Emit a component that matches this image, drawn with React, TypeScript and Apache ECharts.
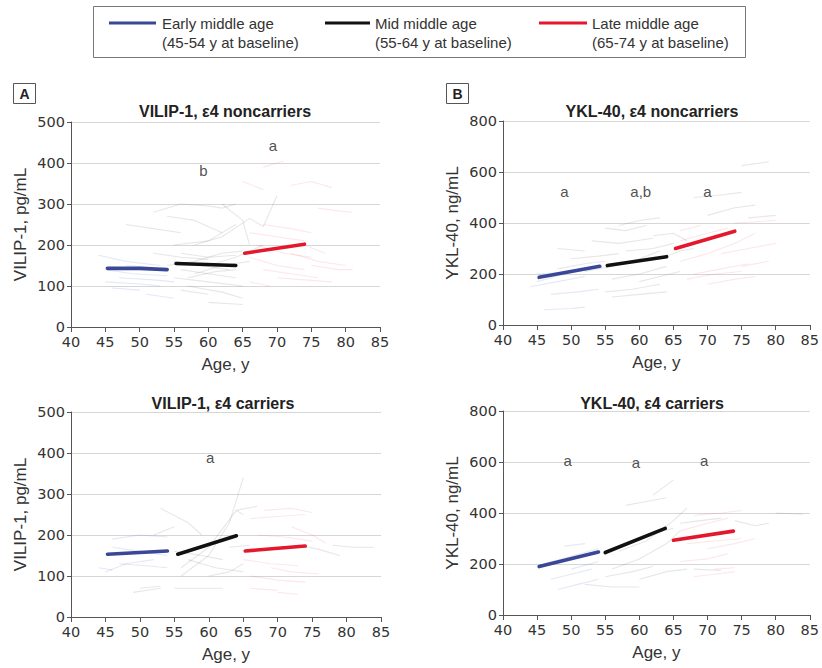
import React, { useEffect, useRef } from "react";
import * as echarts from "echarts";

// ---------- Data ----------
type Pt = [number, number];

// Panel A top: VILIP-1, ε4 noncarriers
const vilipNonEarly: Pt[] = [[45.3, 143], [50, 143], [54, 140]];
const vilipNonMid: Pt[] = [[55.3, 155], [64, 150]];
const vilipNonLate: Pt[] = [[65.3, 180], [74, 202]];
const vilipNonBgEarly: Pt[][] = [
  [[44, 175], [48, 160], [53, 150]],
  [[45, 140], [49, 130], [54, 125]],
  [[45, 110], [50, 105], [53, 100]],
  [[46, 95], [50, 90]],
  [[47, 120], [52, 115], [55, 110]],
  [[51, 80], [55, 70]],
  [[48, 150], [52, 145]],
];
const vilipNonBgMid: Pt[][] = [
  [[48, 250], [52, 240], [56, 230]],
  [[52, 280], [56, 300], [60, 295], [62, 290], [64, 300]],
  [[54, 270], [58, 260], [62, 230]],
  [[55, 200], [60, 210], [64, 250]],
  [[56, 180], [60, 170], [64, 175]],
  [[55, 160], [59, 150], [63, 140]],
  [[56, 140], [60, 130], [64, 120]],
  [[55, 120], [60, 110], [65, 100]],
  [[57, 100], [62, 85], [65, 70]],
  [[60, 60], [65, 55]],
  [[58, 200], [62, 220], [66, 265], [68, 245], [70, 320]],
  [[62, 300], [65, 260], [66, 200]],
  [[56, 90], [60, 80]],
  [[60, 150], [64, 170], [68, 200]],
  [[58, 130], [62, 150], [66, 160]],
  [[52, 180], [56, 170], [60, 165]],
  [[54, 150], [58, 160], [62, 180], [65, 185]],
  [[57, 120], [61, 135], [64, 140]],
];
const vilipNonBgLate: Pt[][] = [
  [[65, 355], [68, 335]],
  [[68, 390], [71, 405]],
  [[72, 345], [75, 355], [78, 340]],
  [[76, 290], [78, 285], [81, 280]],
  [[66, 230], [70, 220], [74, 210]],
  [[67, 200], [71, 180], [75, 170]],
  [[66, 170], [70, 150], [74, 140]],
  [[68, 140], [72, 130], [76, 120]],
  [[70, 120], [74, 115], [78, 110]],
  [[72, 180], [76, 160], [80, 150]],
  [[74, 200], [77, 180]],
  [[75, 150], [79, 140], [81, 140]],
  [[66, 110], [69, 100]],
  [[68, 250], [72, 240], [75, 230]],
];
const vilipNonNotes: [number, number, string][] = [[59.3, 381, "b"], [69.4, 443, "a"]];

// Panel B top: YKL-40, ε4 noncarriers
const yklNonEarly: Pt[] = [[45.3, 187], [54.2, 230]];
const yklNonMid: Pt[] = [[55.3, 233], [64, 268]];
const yklNonLate: Pt[] = [[65.3, 300], [74, 368]];
const yklNonBgEarly: Pt[][] = [
  [[44, 150], [48, 170], [52, 190]],
  [[45, 170], [49, 200], [53, 220]],
  [[46, 60], [50, 65], [52, 70]],
  [[47, 120], [51, 130], [54, 140]],
  [[48, 220], [52, 240], [55, 250]],
  [[45, 200], [48, 205]],
];
const yklNonBgMid: Pt[][] = [
  [[52, 210], [56, 230], [60, 260], [63, 290]],
  [[55, 380], [58, 370], [61, 390]],
  [[57, 390], [60, 410], [63, 420]],
  [[53, 330], [57, 320], [62, 340]],
  [[55, 130], [59, 140], [63, 160]],
  [[56, 180], [60, 200], [64, 230]],
  [[56, 110], [60, 120], [64, 130]],
  [[58, 290], [62, 300], [65, 320]],
  [[60, 170], [63, 190], [66, 210]],
  [[62, 350], [65, 360], [67, 330]],
  [[50, 260], [54, 270], [57, 280]],
  [[48, 300], [52, 290]],
  [[61, 250], [64, 270], [66, 290], [68, 300]],
  [[70, 430], [74, 460], [77, 470]],
  [[68, 500], [72, 510], [75, 520]],
  [[75, 625], [79, 640]],
  [[76, 420], [80, 430]],
];
const yklNonBgLate: Pt[][] = [
  [[66, 250], [70, 280], [74, 320], [77, 360]],
  [[66, 330], [70, 360], [73, 380]],
  [[67, 180], [71, 200], [75, 210]],
  [[68, 200], [72, 220], [76, 240]],
  [[70, 160], [74, 180], [77, 190]],
  [[72, 280], [76, 300], [80, 320]],
  [[74, 400], [77, 405], [80, 410]],
  [[66, 370], [69, 390]],
  [[75, 230], [79, 250]],
];
const yklNonNotes: [number, number, string][] = [[49, 525, "a"], [60.2, 525, "a,b"], [70, 522, "a"]];

// Panel A bottom: VILIP-1, ε4 carriers
const vilipCarEarly: Pt[] = [[45.3, 153], [54, 161]];
const vilipCarMid: Pt[] = [[55.5, 153], [64, 198]];
const vilipCarLate: Pt[] = [[65.3, 161], [74, 173]];
const vilipCarBgEarly: Pt[][] = [
  [[46, 190], [50, 200], [54, 195]],
  [[45, 110], [48, 130], [52, 140]],
  [[46, 170], [50, 160], [54, 150]],
  [[47, 130], [51, 125], [54, 120]],
  [[44, 120], [46, 115]],
];
const vilipCarBgMid: Pt[][] = [
  [[49, 60], [53, 70]],
  [[50, 70], [53, 75]],
  [[53, 265], [57, 230], [59, 200]],
  [[52, 200], [55, 220]],
  [[56, 100], [60, 150], [63, 230], [65, 340]],
  [[56, 120], [60, 170], [64, 260], [65, 250]],
  [[55, 70], [59, 70], [62, 70]],
  [[55, 160], [59, 150], [62, 140]],
  [[57, 140], [61, 120], [65, 110]],
  [[60, 100], [63, 110], [65, 130]],
  [[63, 170], [66, 175]],
  [[64, 260], [67, 270]],
  [[78, 175], [81, 170], [84, 170]],
  [[73, 175], [76, 165], [79, 150]],
];
const vilipCarBgLate: Pt[][] = [
  [[66, 240], [70, 245], [74, 250]],
  [[68, 260], [72, 265], [75, 255]],
  [[65, 140], [69, 130], [73, 125]],
  [[66, 100], [70, 90], [74, 85]],
  [[67, 200], [71, 195], [75, 185]],
  [[69, 120], [72, 110], [76, 105]],
  [[70, 60], [73, 55]],
  [[72, 220], [75, 200], [77, 180]],
  [[66, 70], [70, 65]],
];
const vilipCarNotes: [number, number, string][] = [[60.2, 388, "a"]];

// Panel B bottom: YKL-40, ε4 carriers
const yklCarEarly: Pt[] = [[45.3, 190], [54, 247]];
const yklCarMid: Pt[] = [[55, 245], [63.8, 340]];
const yklCarLate: Pt[] = [[65, 293], [73.8, 329]];
const yklCarBgEarly: Pt[][] = [
  [[46, 200], [50, 230], [54, 260]],
  [[47, 140], [50, 160], [53, 180]],
  [[48, 100], [51, 120], [54, 140]],
  [[49, 270], [52, 280]],
  [[50, 180], [54, 210]],
];
const yklCarBgMid: Pt[][] = [
  [[58, 430], [62, 450], [64, 460]],
  [[62, 470], [65, 530]],
  [[52, 120], [56, 110], [60, 110]],
  [[55, 150], [59, 170], [62, 190]],
  [[56, 180], [60, 220], [64, 280], [66, 330]],
  [[57, 250], [61, 290], [65, 370], [67, 420]],
  [[60, 140], [64, 170], [67, 180]],
  [[66, 360], [69, 370], [72, 380]],
  [[74, 370], [77, 350], [79, 360]],
  [[80, 400], [84, 395]],
  [[62, 320], [65, 340]],
  [[68, 180], [72, 175]],
];
const yklCarBgLate: Pt[][] = [
  [[66, 330], [70, 360], [73, 380]],
  [[68, 390], [72, 400], [75, 410]],
  [[66, 210], [70, 220], [73, 240]],
  [[67, 280], [71, 290], [75, 300]],
  [[68, 150], [71, 160], [74, 170]],
  [[70, 260], [74, 280], [77, 300]],
  [[71, 180], [74, 185]],
];
const yklCarNotes: [number, number, string][] = [[49.5, 604, "a"], [59.5, 600, "a"], [69.5, 604, "a"]];

const panelTitles = [
  "VILIP-1, ε4 noncarriers",
  "YKL-40, ε4 noncarriers",
  "VILIP-1, ε4 carriers",
  "YKL-40, ε4 carriers",
];
const yNames = ["VILIP-1, pg/mL", "YKL-40, ng/mL", "VILIP-1, pg/mL", "YKL-40, ng/mL"];
const xName = "Age, y";
const legendLabels = [
  ["Early middle age", "(45-54 y at baseline)"],
  ["Mid middle age", "(55-64 y at baseline)"],
  ["Late middle age", "(65-74 y at baseline)"],
];

// ---------- Styling ----------
const FONT = '"Liberation Sans Narrow", "Liberation Sans", sans-serif';
const TICKFONT = '"DejaVu Sans", sans-serif';
const C_EARLY = "#3a4796";
const C_MID = "#111111";
const C_LATE = "#e3182d";
const BG_EARLY = "rgba(70,90,190,0.14)";
const BG_MID = "rgba(110,110,110,0.17)";
const BG_LATE = "rgba(235,60,80,0.12)";

const grids = [
  { left: 71, top: 122, width: 309, height: 205 },
  { left: 503, top: 121, width: 309, height: 204 },
  { left: 71, top: 412, width: 310, height: 205 },
  { left: 503, top: 411, width: 309, height: 204 },
];

const panels = [
  { mean: [vilipNonEarly, vilipNonMid, vilipNonLate], bg: [vilipNonBgEarly, vilipNonBgMid, vilipNonBgLate], notes: vilipNonNotes, max: 500, step: 100 },
  { mean: [yklNonEarly, yklNonMid, yklNonLate], bg: [yklNonBgEarly, yklNonBgMid, yklNonBgLate], notes: yklNonNotes, max: 800, step: 200 },
  { mean: [vilipCarEarly, vilipCarMid, vilipCarLate], bg: [vilipCarBgEarly, vilipCarBgMid, vilipCarBgLate], notes: vilipCarNotes, max: 500, step: 100 },
  { mean: [yklCarEarly, yklCarMid, yklCarLate], bg: [yklCarBgEarly, yklCarBgMid, yklCarBgLate], notes: yklCarNotes, max: 800, step: 200 },
];

function buildOption() {
  const series: any[] = [];
  const bgColors = [BG_EARLY, BG_MID, BG_LATE];
  const meanColors = [C_EARLY, C_MID, C_LATE];
  panels.forEach((p, i) => {
    p.bg.forEach((group, g) => {
      group.forEach((traj) => {
        series.push({
          type: "line", xAxisIndex: i, yAxisIndex: i, data: traj, symbol: "none",
          silent: true, lineStyle: { color: bgColors[g], width: 1.1 }, z: 1,
        });
      });
    });
    p.mean.forEach((m, g) => {
      series.push({
        type: "line", xAxisIndex: i, yAxisIndex: i, data: m, symbol: "none",
        lineStyle: { color: meanColors[g], width: 3.6, cap: "round" }, z: 5,
      });
    });
    series.push({
      type: "scatter", xAxisIndex: i, yAxisIndex: i, symbolSize: 0, z: 6,
      data: p.notes.map((n) => ({ value: [n[0], n[1]], name: n[2] })),
      label: { show: true, position: "inside", formatter: (d: any) => d.name, color: "#222", fontSize: 15, fontFamily: FONT },
    });
  });

  const xAxis = grids.map((_, i) => ({
    type: "value", gridIndex: i, min: 40, max: 85, interval: 5,
    name: xName, nameLocation: "middle", nameGap: 29,
    nameTextStyle: { fontSize: 17, color: "#333", fontFamily: FONT },
    axisLine: { show: true, lineStyle: { color: "#555", width: 1 } },
    axisTick: { show: true, length: 5, lineStyle: { color: "#555" } },
    axisLabel: { fontSize: 14.5, color: "#333", fontFamily: TICKFONT, margin: 7 },
    splitLine: { show: false },
  }));
  const yAxis = grids.map((_, i) => ({
    type: "value", gridIndex: i, min: 0, max: panels[i].max, interval: panels[i].step,
    name: yNames[i], nameLocation: "middle", nameGap: 42, nameRotate: 90,
    nameTextStyle: { fontSize: 17, color: "#333", fontFamily: FONT },
    axisLine: { show: true, lineStyle: { color: "#555", width: 1 } },
    axisTick: { show: true, length: 4, lineStyle: { color: "#555" } },
    axisLabel: { fontSize: 14.5, color: "#333", fontFamily: TICKFONT, margin: 6 },
    splitLine: { show: true, lineStyle: { color: "#d6d6d6", width: 1 } },
  }));

  const graphic: any[] = [];
  // legend box
  graphic.push({ type: "rect", shape: { x: 93.5, y: 6.5, width: 652, height: 51 }, style: { fill: "#fff", stroke: "#777", lineWidth: 1 }, z: 0 });
  const legX = [[109, 156, 162], [325, 370, 375], [539, 587, 592]];
  const legC = [C_EARLY, C_MID, C_LATE];
  legX.forEach((lx, k) => {
    graphic.push({ type: "line", shape: { x1: lx[0], y1: 23, x2: lx[1], y2: 23 }, style: { stroke: legC[k], lineWidth: 3 } });
    graphic.push({ type: "text", x: lx[2], y: 23, style: { text: legendLabels[k][0], font: `15px ${FONT}`, fill: "#333", align: "left", verticalAlign: "middle" } });
    graphic.push({ type: "text", x: lx[2], y: 42, style: { text: legendLabels[k][1], font: `15px ${FONT}`, fill: "#333", align: "left", verticalAlign: "middle" } });
  });
  // panel letters
  [[13, "A"], [446, "B"]].forEach(([x, t]: any) => {
    graphic.push({ type: "rect", shape: { x: x + 0.5, y: 83.5, width: 22, height: 20 }, style: { fill: "#fff", stroke: "#555", lineWidth: 1 } });
    graphic.push({ type: "text", x: x + 11.5, y: 94, style: { text: t, font: `bold 14px ${FONT}`, fill: "#222", align: "center", verticalAlign: "middle" } });
  });
  // titles
  const titlePos = [[225, 111], [652, 111], [223, 403], [652, 403]];
  panelTitles.forEach((t, i) => {
    graphic.push({ type: "text", x: titlePos[i][0], y: titlePos[i][1], style: { text: t, font: `bold 16px ${FONT}`, fill: "#222", align: "center", verticalAlign: "middle" } });
  });

  return {
    animation: false,
    backgroundColor: "#fff",
    grid: grids.map((g) => ({ ...g, containLabel: false })),
    xAxis, yAxis, series, graphic,
  };
}

export default function App() {
  const ref = useRef<HTMLDivElement>(null);
  useEffect(() => {
    document.body.style.margin = "0";
    if (!ref.current) return;
    const chart = echarts.init(ref.current, null, { renderer: "svg" });
    chart.setOption(buildOption() as any);
    return () => chart.dispose();
  }, []);
  return <div ref={ref} style={{ width: 822, height: 668 }} />;
}
